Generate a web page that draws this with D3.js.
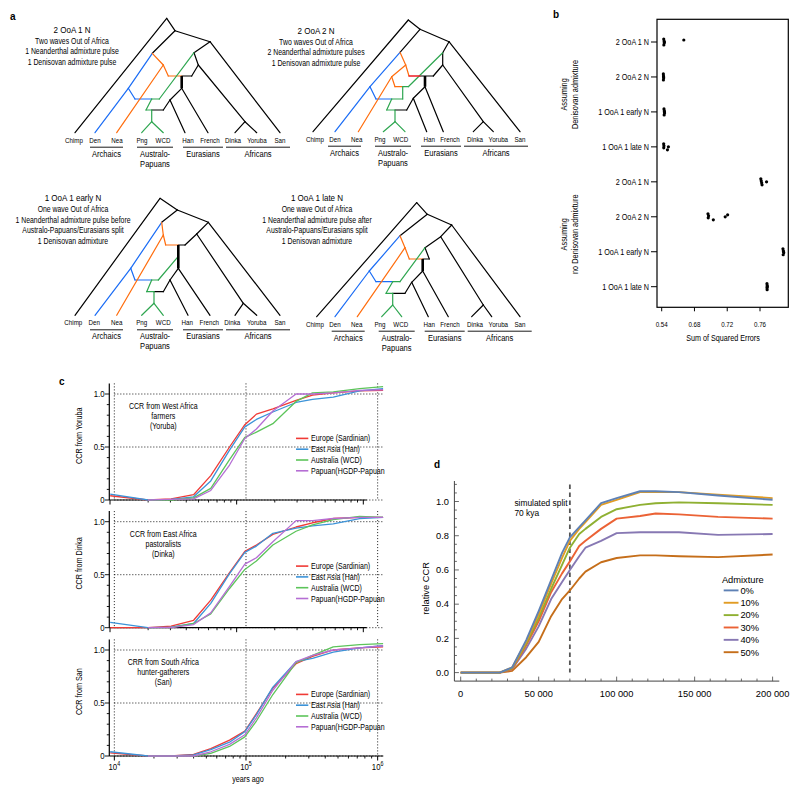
<!DOCTYPE html>
<html><head><meta charset="utf-8">
<script src="https://cdn.jsdelivr.net/npm/d3@7"></script>
<style>
body{margin:0;background:#fff;}
svg text{font-family:"Liberation Sans",Arial,sans-serif;fill:#000;}
</style></head><body>
<svg id="fig" width="800" height="794" xmlns="http://www.w3.org/2000/svg"></svg>
<script>
// ---------------- DATA ----------------
// Panel a: schematic trees (node positions in tree units: x across leaves, y = depth from root)
const leafNames = ["Chimp","Den","Nea","Png","WCD","Han","French","Dinka","Yoruba","San"];
const leafGroups = [
  {name:["Archaics"], x0:15, x1:48},
  {name:["Australo-","Papuans"], x0:62, x1:98},
  {name:["Eurasians"], x0:108, x1:148},
  {name:["Africans"], x0:151, x1:215}
];
const tree1Labels = [-1,20,42,67,88,113,135,158,182,205];
const tree2Labels = [2,22,43.7,67,87.7,116.3,137,162,185.3,207];
const tree3Labels = [-1.7,19.3,41.7,66.7,88.3,112.3,134.3,157.3,181.7,205];
const tree4Labels = [-1.7,18.3,40,63.3,84,112.6,133.3,158.3,181.6,203.3];
const tree1Nodes = {A:[91.7,0],Chimp:[0,114.4],B:[100,12.4],N:[77.3,35],C:[135,23.4],San:[205,114.4],D:[119,34.4],E:[123.3,46.7],DY:[170,103.4],Dinka:[160,114.4],Yoruba:[181.7,114.4],F:[116.7,57.7],Fp:[106.7,57.7],G:[106.7,70],H:[95,81.7],Han:[110,114.4],French:[133,114.4],I:[88.3,91.7],J:[76.7,91.7],K:[71,91.7],L:[76.7,103.4],Png:[66.7,114.4],WCD:[88.3,114.4],M:[76.7,80.7],M2:[84.3,80.7],P:[53.3,70],Q:[60,80.7],Den:[20,114.4],O:[88.3,46.7],O2:[93.3,57.7],Nea:[41.7,114.4]};
const tree1Edges = {
  k:["A-Chimp","A-B","B-N","B-C","C-San","C-D","D-E","E-DY","DY-Dinka","DY-Yoruba","E-F","F-Fp","G-H","H-Han","G-French","H-I","I-J"],
  b:["N-P","P-Den","P-Q","Q-M"],
  o:["N-O","O-Nea","O-O2","O2-Fp"],
  g:["J-K","J-L","L-Png","L-WCD","K-M","M-M2","M2-D"],
  K:["Fp-G"]};
const tree2Nodes = {A:[95.3,0],Chimp:[0,111.7],B:[107,9.3],N:[87,32.3],C:[136,21.7],San:[207,111.7],D:[129.7,32.7],E:[129.7,45],DY:[170.3,101.7],Dinka:[160.3,111.7],Yoruba:[180.3,111.7],F:[120.3,56],Fp:[112,56],R:[107,56],G:[112,66.7],H:[100.3,78.3],Han:[113.7,111.7],French:[130.3,111.7],I:[93.7,90],J:[82,90],K:[73.7,90],L:[82,101.7],Png:[70.3,111.7],WCD:[92,111.7],M:[78.7,79],M2:[89.7,79],M3:[89.7,66.7],M4:[95.3,66.7],P:[57,66.7],Q:[63,79],Den:[22,111.7],O:[92.7,45],O2:[96,56],O3:[78.7,56.7],O4:[82,66.7],Nea:[45.3,111.7]};
const tree2Edges = {
  k:["A-Chimp","A-B","B-N","B-C","C-San","C-D","D-E","E-DY","DY-Dinka","DY-Yoruba","E-F","F-R","G-H","H-Han","G-French","H-I","I-J"],
  b:["N-P","P-Den","P-Q","Q-M"],
  o:["N-O","O-O2","O-O3","O3-Nea","O3-O4","O4-M3"],
  g:["J-K","J-L","L-Png","L-WCD","K-M","M-M2","M2-M3","M3-M4","M4-D"],
  r:["O2-R"],
  K:["Fp-G"]};
const tree3Nodes = {A:[85,0],Chimp:[0,117],B:[102.3,11.7],N:[86.7,24],C:[133.3,24],San:[205,117],D:[121.7,35.7],DY:[168.3,105],Dinka:[160,117],Yoruba:[181.7,117],E:[110,46.7],Fp:[103.3,46.7],G:[103.3,70],H:[95,81.7],Han:[113,117],French:[135,117],I:[88.3,93.4],J:[79,93.4],K:[71.7,93.4],L:[79,105],Png:[66.7,117],WCD:[88.3,117],M:[76.7,81.7],M2:[83.3,81.7],Gm:[103.3,58],P:[55.7,70],Q:[60,81.7],Den:[20,117],O:[88.3,36.7],O2:[90.7,46.7],Nea:[41.7,117]};
const tree3Edges = {
  k:["A-Chimp","A-B","B-N","B-C","C-San","C-D","D-E","D-DY","DY-Dinka","DY-Yoruba","E-Fp","G-H","H-Han","G-French","H-I","I-J"],
  b:["N-P","P-Den","P-Q","Q-M"],
  o:["N-O","O-Nea","O-O2","O2-Fp"],
  g:["J-K","J-L","L-Png","L-WCD","K-M","M-M2","M2-Gm"],
  K:["Fp-G"]};
const tree4Nodes = {A:[100,0],Chimp:[0,114],B:[110.6,11.6],N:[83.3,33],C:[135,22.3],San:[203.3,114],D:[124,34],DY:[166.6,102.3],Dinka:[155,114],Yoruba:[175,114],E:[108.3,45],E2:[112.6,56.3],Fp:[106,56.3],G:[106,68.3],H:[95,79.6],Han:[111.6,114],French:[131.6,114],I:[88.3,90.6],J:[76,90.6],K:[69.3,90.6],L:[76,102.3],Png:[65,114],WCD:[85,114],M:[76,79],M2:[83.3,79],P:[52.6,68.3],Q:[59.3,79],Den:[18.3,114],O:[88.3,45],O2:[92.6,56.3],Nea:[40.6,114]};
const tree4Edges = {
  k:["A-Chimp","A-B","B-N","B-C","C-San","C-D","D-E","D-DY","DY-Dinka","DY-Yoruba","E-E2","E2-Fp","G-H","H-Han","G-French","H-I","I-J"],
  b:["N-P","P-Den","P-Q","Q-M"],
  o:["N-O","O-Nea","O-O2","O2-Fp"],
  g:["J-K","J-L","L-Png","L-WCD","K-M","M-M2","M2-E"],
  K:["Fp-G"]};
const treeTitles = [
  ["2 OoA 1 N","Two waves Out of Africa","1 Neanderthal admixture pulse","1 Denisovan admixture pulse"],
  ["2 OoA 2 N","Two waves Out of Africa","2 Neanderthal admixture pulses","1 Denisovan admixture pulse"],
  ["1 OoA 1 early N","One wave Out of Africa","1 Neanderthal admixture pulse before","Australo-Papuans/Eurasians split","1 Denisovan admixture"],
  ["1 OoA 1 late N","One wave Out of Africa","1 Neanderthal admixture pulse after","Australo-Papuans/Eurasians split","1 Denisovan admixture"]
];

// Panel b: sum of squared errors per model
const bModels = ["2 OoA 1 N","2 OoA 2 N","1 OoA 1 early N","1 OoA 1 late N","2 OoA 1 N","2 OoA 2 N","1 OoA 1 early N","1 OoA 1 late N"];
const bGroupTitles = [["Assuming","Denisovan admixture"],["Assuming","no Denisovan admixture"]];
const bSSE = [
  [0.6425,0.6429,0.6431,0.6426,0.6433,0.6670],
  [0.6420,0.6422,0.6424,0.6421,0.6423],
  [0.6428,0.6432,0.6435,0.6430,0.6433],
  [0.6424,0.6427,0.6425,0.6470,0.6482],
  [0.7610,0.7615,0.7620,0.7625,0.7680],
  [0.6965,0.6972,0.6968,0.7030,0.7175,0.7205],
  [0.7880,0.7885,0.7890,0.7883,0.7887],
  [0.7685,0.7688,0.7686,0.7687,0.7689]
];
const bTickValues = [0.64,0.68,0.72,0.76];
const bTickLabels = ["0.54","0.68","0.72","0.76"];

// Panel c: CCR curves
const cTimes = [9300,18000,27000,40000,54000,75000,98000,120000,160000,240000,320000,460000,730000,1100000];
const cSeriesNames = ["Europe (Sardinian)","East Asia (Han)","Australia (WCD)","Papuan(HGDP-Papuan"];
const cColors = ["#f03a36","#3c93d8","#5cc45a","#b56ed4"];
const cPanels = [
  {ylab:"CCR from Yoruba", note:["CCR from West Africa","farmers","(Yoruba)"]},
  {ylab:"CCR from Dinka", note:["CCR from East Africa","pastoralists","(Dinka)"]},
  {ylab:"CCR from San", note:["CRR from South Africa","hunter-gatherers","(San)"]}
];
const ccrYoruba = [
  [0.04,0.0,0.01,0.05,0.23,0.50,0.71,0.81,0.86,0.94,0.99,1.01,1.03,1.035],
  [0.055,0.0,0.005,0.03,0.18,0.47,0.69,0.76,0.83,0.92,0.95,0.97,1.03,1.05],
  [null,0.0,0.0,0.02,0.11,0.38,0.59,0.64,0.72,0.93,1.01,1.02,1.05,1.07],
  [null,0.0,0.005,0.01,0.09,0.33,0.58,0.67,0.84,1.0,1.0,1.01,1.035,1.04]
];
const ccrDinka = [
  [0.0,0.0,0.015,0.07,0.26,0.52,0.72,0.78,0.88,0.95,0.99,1.03,1.04,1.04],
  [0.05,0.0,0.005,0.04,0.23,0.51,0.71,0.77,0.89,0.94,0.96,0.98,1.03,1.04],
  [null,0.0,0.0,0.04,0.13,0.37,0.55,0.63,0.78,0.91,0.97,1.02,1.05,1.04],
  [null,0.0,0.0,0.03,0.14,0.39,0.60,0.66,0.81,1.01,1.01,1.03,1.04,1.04]
];
const ccrSan = [
  [0.03,0.0,0.0,0.015,0.07,0.15,0.235,0.40,0.64,0.87,0.94,1.0,1.02,1.03],
  [0.04,0.0,0.0,0.01,0.06,0.13,0.23,0.39,0.65,0.89,0.92,0.98,1.02,1.04],
  [null,0.0,0.0,0.0,0.025,0.09,0.18,0.33,0.58,0.88,0.95,1.03,1.05,1.06],
  [null,0.0,0.0,0.0,0.04,0.11,0.20,0.36,0.62,0.89,0.95,1.0,1.02,1.04]
];
const cYTicks = [0,0.5,1.0];
const cYTickLabels = ["0","0.5","1.0"];

// Panel d: relative CCR under admixture
const dTimes = [0,25000,33000,42000,50000,58000,65000,70000,76000,80000,90000,100000,115000,125000,140000,165000,200000];
const dLabels = ["0%","10%","20%","30%","40%","50%"];
const dColors = ["#5e81b5","#e19c24","#8fb032","#eb6235","#8778b3","#c56e1a"];
const dAdm0  = [0,0,0.03,0.19,0.36,0.54,0.70,0.79,0.85,0.89,0.99,1.02,1.06,1.06,1.055,1.035,1.01];
const dAdm10 = [0,0,0.03,0.18,0.34,0.52,0.67,0.77,0.84,0.88,0.98,1.01,1.055,1.055,1.055,1.04,1.02];
const dAdm20 = [0,0,0.025,0.17,0.32,0.49,0.63,0.73,0.81,0.84,0.91,0.955,0.98,0.99,0.995,0.99,0.98];
const dAdm30 = [0,0,0.02,0.16,0.30,0.47,0.58,0.65,0.74,0.77,0.84,0.90,0.915,0.93,0.925,0.91,0.90];
const dAdm40 = [0,0,0.02,0.14,0.27,0.43,0.53,0.60,0.68,0.73,0.77,0.815,0.82,0.82,0.82,0.805,0.81];
const dAdm50 = [0,0,0.01,0.09,0.18,0.33,0.43,0.48,0.55,0.59,0.645,0.67,0.685,0.685,0.68,0.675,0.69];
const dSplit = 70000;
const dXTicks = [0,50000,100000,150000,200000];
const dXTickLabels = ["0","50 000","100 000","150 000","200 000"];
const dYTicks = [0,0.2,0.4,0.6,0.8,1.0];

// ---------------- DRAW ----------------
const svg = d3.select("#fig");
svg.append("rect").attr("width",800).attr("height",794).attr("fill","#fff");
const NARROW = 0.82;
function txt(g, x, y, s, o={}) {
  const size=o.size||8, anchor=o.anchor||"start", narrow=(o.narrow!==false);
  let tr=`translate(${x},${y})`;
  if (o.rotate) tr += ` rotate(${o.rotate})`;
  if (narrow) tr += ` scale(${NARROW},1)`;
  const t = g.append("text").attr("transform",tr).attr("text-anchor",anchor)
    .attr("font-size",size).attr("font-weight",o.weight||"normal").text(s);
  return t;
}

// panel letters
txt(svg,10,20,"a",{size:10,weight:"bold",narrow:false});
txt(svg,553,18,"b",{size:10,weight:"bold",narrow:false});
txt(svg,59,385,"c",{size:10,weight:"bold",narrow:false});
txt(svg,434,468,"d",{size:10,weight:"bold",narrow:false});

// ----- Panel a -----
const treeDefs = [
  {nodes:tree1Nodes, edges:tree1Edges, labels:tree1Labels, origin:[75,18.3], tx:72, ty:32.5},
  {nodes:tree2Nodes, edges:tree2Edges, labels:tree2Labels, origin:[313,20], tx:316, ty:33.5},
  {nodes:tree3Nodes, edges:tree3Edges, labels:tree3Labels, origin:[75,198.3], tx:73, ty:201},
  {nodes:tree4Nodes, edges:tree4Edges, labels:tree4Labels, origin:[316.7,202.7], tx:317, ty:201}
];
const edgeStyle = {k:{c:"#000",w:1.2}, b:{c:"#1a6cf5",w:1.2}, o:{c:"#ff6d0d",w:1.2}, g:{c:"#2ea650",w:1.2}, r:{c:"#ee1c24",w:1.4}, K:{c:"#000",w:2.6}};
const edgeOrder = ["k","b","o","g","r","K"];
treeDefs.forEach((t,ti) => {
  const g = svg.append("g");
  const xs = d3.scaleLinear().domain([0,205]).range([t.origin[0], t.origin[0]+205]);
  const ys = d3.scaleLinear().domain([0,120]).range([t.origin[1], t.origin[1]+120]);
  const line = d3.line().x(d=>xs(d[0])).y(d=>ys(d[1]));
  edgeOrder.forEach(k => {
    (t.edges[k]||[]).forEach(e => {
      const [a,b] = e.split("-");
      g.append("path").attr("d", line([t.nodes[a], t.nodes[b]]))
        .attr("fill","none").attr("stroke",edgeStyle[k].c).attr("stroke-width",edgeStyle[k].w)
        .attr("stroke-linecap", k==="K" ? "butt" : "round");
    });
  });
  const leafY = t.nodes.Chimp[1];
  leafNames.forEach((n,i) => txt(g, xs(t.labels[i]), ys(leafY)+10, n, {size:7.6, anchor:"middle"}));
  leafGroups.forEach(gr => {
    g.append("line").attr("x1",xs(gr.x0)).attr("x2",xs(gr.x1))
      .attr("y1",ys(leafY)+14.5).attr("y2",ys(leafY)+14.5).attr("stroke","#000").attr("stroke-width",0.9);
    gr.name.forEach((s,i) => txt(g,(xs(gr.x0)+xs(gr.x1))/2, ys(leafY)+23.8+i*10.2, s, {size:9.2, anchor:"middle"}));
  });
  treeTitles[ti].forEach((s,i) => {
    txt(g, t.tx, i===0 ? t.ty : t.ty + 11 + (i-1)*10.6, s, {size: i===0?9.8:8.4, anchor:"middle"});
  });
});

// ----- Panel b -----
{
  const g = svg.append("g");
  const bx = d3.scaleLinear().domain([0.64,0.76]).range([661.7,760]);
  const by = d3.scalePoint().domain(d3.range(bModels.length)).range([42,286.7]);
  const fx0=657, fx1=788.3, fy0=19.3, fy1=307.3;
  g.append("rect").attr("x",fx0).attr("y",fy0).attr("width",fx1-fx0).attr("height",fy1-fy0)
    .attr("fill","none").attr("stroke","#000").attr("stroke-width",1.2);
  bModels.forEach((m,i) => {
    g.append("line").attr("x1",fx0-6).attr("x2",fx0).attr("y1",by(i)).attr("y2",by(i)).attr("stroke","#000").attr("stroke-width",1);
    txt(g, fx0-8, by(i)+3.1, m, {size:8.8, anchor:"end"});
  });
  bTickValues.forEach((v,i) => {
    g.append("line").attr("x1",bx(v)).attr("x2",bx(v)).attr("y1",fy1).attr("y2",fy1+4).attr("stroke","#000").attr("stroke-width",1);
    txt(g, bx(v), 326.8, bTickLabels[i], {size:7.6, anchor:"middle"});
  });
  txt(g, 723, 341.3, "Sum of Squared Errors", {size:8.8, anchor:"middle"});
  const jit = [-3,-1,1,3,0,-2,2];
  bSSE.forEach((row,i) => {
    row.forEach((v,j) => {
      g.append("circle").attr("cx",bx(v)).attr("cy",by(i)+jit[j%jit.length]).attr("r",1.6).attr("fill","#000");
    });
  });
  bGroupTitles.forEach((lines,k) => {
    const yc = (by(k*4)+by(k*4+3))/2;
    lines.forEach((s,i) => txt(g, 567.3+i*10.3, yc, s, {size:9, anchor:"middle", rotate:-90}));
  });
}

// ----- Panel c -----
{
  const bottoms = [500, 627.7, 756];
  const plotH = 116.6;
  const xData = d3.scaleLog().domain([9270,1104000]).range([110,383.3]);
  const xTopAxis = d3.scaleLog().domain([1e4,1e6]).range([110,363.3]);
  const allData = [ccrYoruba, ccrDinka, ccrSan];
  const minorTicks = [];
  [1e4,1e5].forEach(d => { for (let k=2;k<=9;k++) minorTicks.push(k*d); });
  bottoms.forEach((yb,pi) => {
    const g = svg.append("g");
    const y = d3.scaleLinear().domain([0,1.1]).range([yb, yb-plotH]);
    const gridX0 = xData(1e4), gridX1 = 383.3;
    [1e4,1e5,1e6].forEach(v => g.append("line").attr("x1",xData(v)).attr("x2",xData(v)).attr("y1",y(1.1)).attr("y2",yb)
      .attr("stroke","#000").attr("stroke-width",0.9).attr("stroke-dasharray","1,2"));
    [0,0.5,1.0].forEach(v => g.append("line").attr("x1",gridX0).attr("x2",gridX1).attr("y1",y(v)).attr("y2",y(v))
      .attr("stroke","#000").attr("stroke-width",0.9).attr("stroke-dasharray","1,2"));
    const isBottom = pi===2;
    const tickScale = isBottom ? xData : xTopAxis;
    const axisEnd = isBottom ? 383.3 : 366.7;
    g.append("line").attr("x1",109.3).attr("x2",109.3).attr("y1",y(1.1)).attr("y2",yb).attr("stroke","#000").attr("stroke-width",1.2);
    g.append("line").attr("x1",109.3).attr("x2",axisEnd).attr("y1",yb).attr("y2",yb).attr("stroke","#000").attr("stroke-width",1.2);
    d3.range(0,1.1,0.1).forEach(v => g.append("line").attr("x1",109.3-(Math.abs(v*2-Math.round(v*2))<1e-6?4.5:2.5)).attr("x2",109.3)
      .attr("y1",y(v)).attr("y2",y(v)).attr("stroke","#000").attr("stroke-width",0.9));
    cYTicks.forEach((v,i) => txt(g, 104.5, y(v)+3.2, cYTickLabels[i], {size:9.5, anchor:"end"}));
    [1e4,1e5,1e6].forEach(v => g.append("line").attr("x1",tickScale(v)).attr("x2",tickScale(v)).attr("y1",yb).attr("y2",yb+4.5).attr("stroke","#000").attr("stroke-width",1));
    minorTicks.forEach(v => g.append("line").attr("x1",tickScale(v)).attr("x2",tickScale(v)).attr("y1",yb).attr("y2",yb+2.5).attr("stroke","#000").attr("stroke-width",0.9));
    txt(g, 81.5, (y(1.1)+yb)/2-6, cPanels[pi].ylab, {size:8.8, anchor:"middle", rotate:-90});
    cPanels[pi].note.forEach((s,i) => txt(g, 163.3, yb - plotH + 26 + i*10, s, {size:8.6, anchor:"middle"}));
    const line = d3.line().defined(d=>d[1]!==null).x(d=>xData(d[0])).y(d=>y(d[1]));
    allData[pi].forEach((ser,si) => {
      g.append("path").attr("d", line(cTimes.map((t,k)=>[t,ser[k]])))
        .attr("fill","none").attr("stroke",cColors[si]).attr("stroke-width",1.3).attr("stroke-linejoin","round");
    });
    cSeriesNames.forEach((n,si) => {
      const ly = yb - plotH + 55 + si*10.8;
      g.append("line").attr("x1",296).attr("x2",308.3).attr("y1",ly).attr("y2",ly).attr("stroke",cColors[si]).attr("stroke-width",1.6);
      txt(g, 311, ly+3, n, {size:8.6});
    });
    if (isBottom) {
      [4,5,6].forEach(p => {
        const t = g.append("text").attr("transform",`translate(${xData(Math.pow(10,p))},769.5) scale(${NARROW},1)`)
          .attr("text-anchor","middle").attr("font-size",9.5);
        t.append("tspan").text("10");
        t.append("tspan").attr("dy",-3.5).attr("font-size",6.5).text(String(p));
      });
      txt(g, 248, 782, "years ago", {size:8.8, anchor:"middle"});
    }
  });
}

// ----- Panel d -----
{
  const g = svg.append("g");
  const dx = d3.scaleLinear().domain([0,200000]).range([460.7,772.6]);
  const dy = d3.scaleLinear().domain([0,1]).range([672.6,501.5]);
  const axX = 454.4, axY = 681.1;
  g.append("line").attr("x1",axX).attr("x2",axX).attr("y1",481).attr("y2",axY).attr("stroke","#444").attr("stroke-width",1);
  g.append("line").attr("x1",axX).attr("x2",779.3).attr("y1",axY).attr("y2",axY).attr("stroke","#444").attr("stroke-width",1);
  d3.range(0,1.101,0.05).forEach(v => {
    const major = Math.abs(v*5-Math.round(v*5))<1e-6;
    g.append("line").attr("x1",axX).attr("x2",axX+(major?4.5:2.5)).attr("y1",dy(v)).attr("y2",dy(v)).attr("stroke","#444").attr("stroke-width",0.8);
  });
  dYTicks.forEach(v => txt(g, 449, dy(v)+3.3, v.toFixed(1), {size:9.3, anchor:"end", narrow:false}));
  d3.range(0,200001,10000).forEach(v => {
    const major = v%50000===0;
    g.append("line").attr("x1",dx(v)).attr("x2",dx(v)).attr("y1",axY).attr("y2",axY-(major?4.5:2.5)).attr("stroke","#444").attr("stroke-width",0.8);
  });
  dXTicks.forEach((v,i) => txt(g, dx(v), 697.4, dXTickLabels[i], {size:9.3, anchor:"middle", narrow:false}));
  txt(g, 429, 588.5, "relative CCR", {size:9.3, anchor:"middle", rotate:-90, narrow:false});
  g.append("line").attr("x1",dx(dSplit)).attr("x2",dx(dSplit)).attr("y1",dy(1.1)).attr("y2",dy(0))
    .attr("stroke","#555").attr("stroke-width",1.8).attr("stroke-dasharray","4.5,3.5");
  txt(g, 514.4, 505.6, "simulated split", {size:8.4, narrow:false});
  txt(g, 514.4, 515.8, "70 kya", {size:8.4, narrow:false});
  const series = [dAdm0,dAdm10,dAdm20,dAdm30,dAdm40,dAdm50];
  const line = d3.line().x(d=>dx(d[0])).y(d=>dy(d[1]));
  series.slice().reverse().forEach((ser,ri) => {
    const si = series.length-1-ri;
    g.append("path").attr("d", line(dTimes.map((t,k)=>[t,ser[k]])))
      .attr("fill","none").attr("stroke",dColors[si]).attr("stroke-width",1.9).attr("stroke-linejoin","round");
  });
  txt(g, 721.9, 582.6, "Admixture", {size:9.3, narrow:false});
  dLabels.forEach((n,i) => {
    const ly = 590.4 + i*12.36;
    g.append("line").attr("x1",723.7).attr("x2",738.5).attr("y1",ly).attr("y2",ly).attr("stroke",dColors[i]).attr("stroke-width",1.9);
    txt(g, 740.4, ly+3.3, n, {size:9.3, narrow:false});
  });
}
</script></body></html>
